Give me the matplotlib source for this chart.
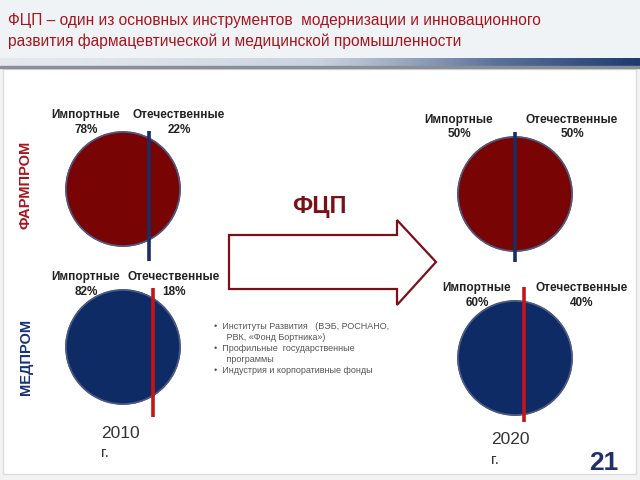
import numpy as np
import matplotlib
matplotlib.use("Agg")
import matplotlib.pyplot as plt
from matplotlib.patches import Polygon, Rectangle, Circle
from matplotlib.colors import LinearSegmentedColormap

# data
title_lines = ["ФЦП – один из основных инструментов  модернизации и инновационного",
               "развития фармацевтической и медицинской промышленности"]
sectors = ["ФАРМПРОМ", "МЕДПРОМ"]
years = ["2010", "2020"]
import_share = {"2010": [78, 82], "2020": [50, 60]}
domestic_share = {"2010": [22, 18], "2020": [50, 40]}
bullets = ["Институты Развития   (ВЭБ, РОСНАНО,\n РВК, «Фонд Бортника»)",
           "Профильные  государственные\n программы",
           "Индустрия и корпоративные фонды"]
page_num = "21"

plt.rcParams['font.family'] = ['Liberation Sans', 'DejaVu Sans']

fig = plt.figure(figsize=(6.4, 4.8), dpi=100)
fig.patch.set_facecolor("#f3f3f3")
ax = fig.add_axes([0, 0, 1, 1])

# slide background
ax.add_patch(Rectangle((0, 0), 640, 58, color="#f0f3f6", zorder=0))
ax.add_patch(Rectangle((3, 69), 633, 405, facecolor="white", edgecolor="#dcdcdc", lw=1, zorder=0))
cmap = LinearSegmentedColormap.from_list("band", ["#e4e8ee", "#c9d1dc", "#5a729a", "#1d3b70"])
grad = np.linspace(0, 1, 256) ** 1.6
ax.imshow(grad[None, :], cmap=cmap, extent=[0, 640, 66, 58], aspect="auto", zorder=1)
ax.add_patch(Rectangle((0, 66), 640, 2, color="#8a8f96", zorder=1))

for i, line in enumerate(title_lines):
    ax.text(8, 20 + 21 * i, line, color="#a8141e", fontsize=11.2, va="center", ha="left", zorder=3)

# sector labels
sector_y = [185, 357]
sector_colors = ["#a8141e", "#16307a"]
for name, y, c in zip(sectors, sector_y, sector_colors):
    ax.text(26, y, name, rotation=90, color=c, fontsize=10.5, fontweight="bold",
            ha="center", va="center")


def split_offset(frac):
    # distance of the vertical chord from the center (in radii) so that
    # the right segment holds `frac` of the circle area
    lo, hi = -1.0, 1.0
    for _ in range(60):
        t = (lo + hi) / 2
        seg = (np.arccos(t) - t * np.sqrt(1 - t * t)) / np.pi
        if seg > frac:
            lo = t
        else:
            hi = t
    return (lo + hi) / 2


pie_centers = {"2010": [(123, 189), (123, 347)], "2020": [(515, 194), (515, 358)]}
radius = 57
pie_colors = ["#780404", "#0f2b66"]
line_colors = ["#1a2d66", "#c4141c"]
label_dy = {"2010": [(-74, -59), (-70, -55)], "2020": [(-74, -60), (-70, -55)]}
label_dx = {"2010": [(-37, 56), (-37, 51)], "2020": [(-56, 57), (-38, 67)]}
line_span = {"2010": [(131, 261), (288, 417)], "2020": [(132, 262), (287, 422)]}

for yr in years:
    for k in range(2):
        cx, cy = pie_centers[yr][k]
        imp, dom = import_share[yr][k], domestic_share[yr][k]
        ax.pie([imp, dom], colors=[pie_colors[k]] * 2, center=(cx, cy), radius=radius,
               startangle=90, frame=True,
               wedgeprops=dict(linewidth=1.0, edgecolor=pie_colors[k]))
        ax.add_patch(Circle((cx, cy), radius, fill=False, edgecolor="#4d5a86", lw=1.2, zorder=2))
        lx = cx + split_offset(dom / 100) * radius
        y0, y1 = line_span[yr][k]
        ax.plot([lx, lx], [y0, y1], color=line_colors[k], lw=2.6, zorder=3,
                solid_capstyle="butt")
        dxi, dxd = label_dx[yr][k]
        ty, py = label_dy[yr][k]
        for x, t in [(cx + dxi, "Импортные"), (cx + dxd, "Отечественные")]:
            ax.text(x, cy + ty, t, fontsize=8.5, fontweight="bold",
                    color="#222222", ha="center", va="center", zorder=4)
        for x, v in [(cx + dxi, imp), (cx + dxd, dom)]:
            ax.text(x, cy + py, f"{v}%", fontsize=8.5, fontweight="bold",
                    color="#222222", ha="center", va="center", zorder=4)

# year labels
for yr, (x, y) in zip(years, [(120, 433), (510, 440)]):
    ax.text(x, y, yr, fontsize=12.5, color="#333333", ha="center", va="center")
    ax.text(x - 15, y + 20, "г.", fontsize=11, color="#333333", ha="center", va="center")

# arrow
arrow = Polygon([(229, 235), (397, 235), (397, 220), (436, 262), (397, 305),
                 (397, 289), (229, 289)], closed=True, facecolor="white",
                edgecolor="#7a1018", lw=1.6, zorder=3)
ax.add_patch(arrow)
ax.text(319, 207, "ФЦП", fontsize=17, fontweight="bold", color="#7a1018",
        ha="center", va="center")

# bullets
by = 322
for b in bullets:
    ax.text(214, by, "•  " + b.replace("\n", "\n    "), fontsize=6.5, color="#555555",
            ha="left", va="top", linespacing=1.35)
    by += 22 if "\n" in b else 11
ax.text(604, 463, page_num, fontsize=19, fontweight="bold", color="#22306a",
        ha="center", va="center")

ax.set_xlim(0, 640)
ax.set_ylim(480, 0)
ax.set_aspect("auto")
ax.axis("off")
fig.savefig("out.png", dpi=100)
